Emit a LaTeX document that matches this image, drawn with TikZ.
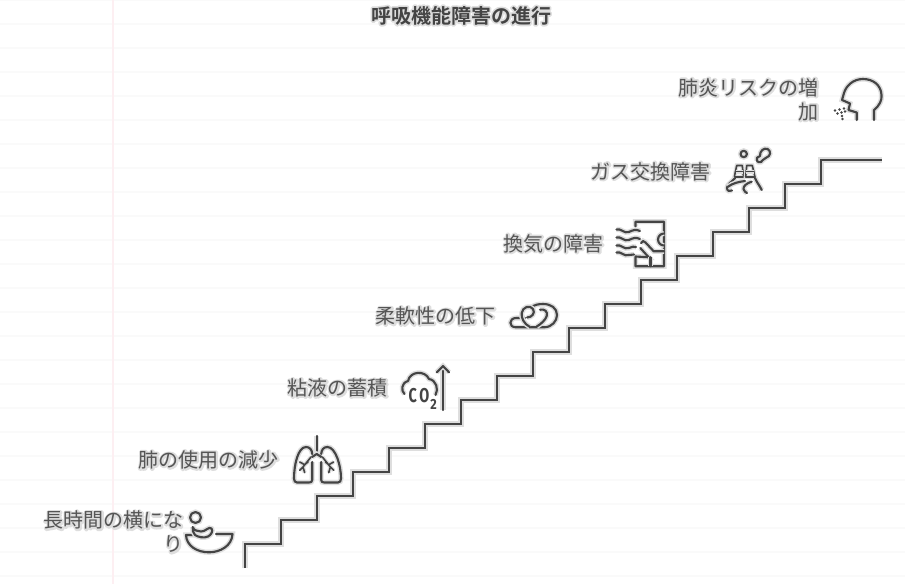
\documentclass[tikz,border=0pt]{standalone}
\usepackage{fontspec}
\setmainfont{Noto Sans CJK JP}
\newfontfamily\jpfont{Noto Sans CJK JP}
\newfontfamily\jpbold{Noto Sans CJK JP Bold}
\newfontfamily\lat{Fira Sans}
\definecolor{ink}{HTML}{444444}
\definecolor{txt}{HTML}{555555}
\definecolor{haloc}{HTML}{DEDEDE}
\definecolor{rule}{HTML}{FAFAFA}
\definecolor{margin}{HTML}{FDEFF2}
\newcommand{\strokeon}{\special{pdf:code 1 Tr 2.6 w 1 j}}
\newcommand{\strokeoff}{\special{pdf:code 0 Tr 0.4 w 0 j}}
\newcommand{\hl}[1]{\rlap{\jpfont\textcolor{haloc}{\strokeon #1\strokeoff}}{\jpfont\textcolor{txt}{#1}}}
\newcommand{\hlb}[1]{\rlap{\jpbold\textcolor{haloc}{\strokeon #1\strokeoff}}{\jpbold\textcolor{ink}{#1}}}
\tikzset{
  x=0.75pt,y=-0.75pt,
  lab/.style={inner sep=0pt,anchor=east,align=right,font=\fontsize{15}{18}\selectfont},
  ttl/.style={inner sep=0pt,font=\fontsize{15}{18}\selectfont},
  ic/.style={draw=ink,line width=1.6pt,line cap=round,line join=round,
    preaction={draw=haloc,line width=3.8pt}},
  fine/.style={draw=ink,line width=1.2pt,line cap=round,line join=round,
    preaction={draw=haloc,line width=3pt}},
  stair/.style={draw=ink,line width=2pt,line join=miter,
    preaction={draw=haloc,line width=4.2pt}},
  dot/.style={fill=ink},
}
\begin{document}
\begin{tikzpicture}
\useasboundingbox (0,0) rectangle (905,584);
\fill[white] (0,0) rectangle (905,584);
\foreach \y in {0,24,...,576} \draw[rule,line width=1pt] (0,\y) -- (905,\y);
\draw[margin,line width=1pt] (113,0) -- (113,584);

\node[ttl] (title) at (461,15.5) {\hlb{呼吸機能障害の進行}};

% stairs
\draw[stair] (245,568) -- (245,544) -- (281,544) -- (281,520) -- (317,520) -- (317,496) -- (353,496) -- (353,472) -- (389,472) -- (389,448) -- (425,448) -- (425,424) -- (461,424) -- (461,400) -- (497,400) -- (497,376) -- (533,376) -- (533,352) -- (569,352) -- (569,328) -- (605,328) -- (605,304) -- (641,304) -- (641,280) -- (677,280) -- (677,256) -- (713,256) -- (713,232) -- (749,232) -- (749,208) -- (785,208) -- (785,184) -- (821,184) -- (821,160) -- (882,160);

% labels
\node[lab] (l1) at (184,532) {\hl{長時間の横にな}\\\hl{り}};
\node[lab] (l2) at (279,460) {\hl{肺の使用の減少}};
\node[lab] (l3) at (388,388) {\hl{粘液の蓄積}};
\node[lab] (l4) at (496,316) {\hl{柔軟性の低下}};
\node[lab] (l5) at (604,243.5) {\hl{換気の障害}};
\node[lab] (l6) at (711,171.5) {\hl{ガス交換障害}};
\node[lab] (l7) at (819,99.5) {\hl{肺炎リスクの増}\\\hl{加}};

% icon: lying person in bowl
\draw[ic] (195.5,517.5) circle (5.5);
\draw[ic] (216,534) -- (232.5,534) .. controls (232,546) and (220,552.3) .. (209,552.3) .. controls (197,552.3) and (186.5,546) .. (186,535) -- (195,535);
\draw[ic] (192.7,527) .. controls (194,531) and (198,531) .. (201,531.5) .. controls (205,532) and (209,526) .. (211.5,528.5) .. controls (213.5,531) and (211,535) .. (208,536.5) .. controls (204,538.5) and (198,537) .. (195,535) .. controls (193,533) and (192.5,530) .. (192.7,527);

% icon: lungs
\draw[ic] (316.7,436) -- (316.7,454);
\draw[ic] (312,457) -- (316.7,454) -- (321.4,457);
\draw[ic] (312.2,462) -- (312.2,480) .. controls (312.2,482) and (311,482.5) .. (309,482.5) -- (297,482.5) .. controls (295,482.5) and (294,481) .. (294,478.5) .. controls (294,465) and (298,447) .. (306,447) .. controls (310,447) and (312,450) .. (312.2,454);
\draw[ic] (321.2,462) -- (321.2,480) .. controls (321.2,482) and (322.4,482.5) .. (324.4,482.5) -- (338,482.5) .. controls (340,482.5) and (341,481) .. (341,478.5) .. controls (341,465) and (335.4,447) .. (327.4,447) .. controls (323.4,447) and (321.4,450) .. (321.2,454);
\draw[fine] (311,457) -- (303,467) (299.7,462) -- (304.7,464.7) (308,462) -- (305.5,464) (299.7,470.3) -- (303,467) -- (304.7,472.7);
\draw[fine] (322.4,457) -- (330.4,467) (333.7,462) -- (328.7,464.7) (325.4,462) -- (327.9,464) (333.7,470.3) -- (330.4,467) -- (328.7,472.7);

% icon: CO2 cloud with arrow
\draw[ic] (404.5,394) .. controls (401,391) and (401,383) .. (408,381) .. controls (410,371) and (425,370) .. (429,379) .. controls (436,380) and (439,389) .. (435.5,395);
\node[inner sep=0pt,text=ink,font=\lat\bfseries\fontsize{15}{15}\selectfont] (co) at (419,396) {\scalebox{.72}[1]{C\,O}};
\node[inner sep=0pt,text=ink,font=\lat\bfseries\fontsize{11}{11}\selectfont] (two) at (433.5,404) {\scalebox{.85}[1]{2}};
\draw[ic] (443,410) -- (443,366);
\draw[ic] (436.7,372.3) -- (443,366) -- (449,372.3);

% icon: soft tissue
\draw[ic] (525,318) -- (516,318) .. controls (509,318) and (508,327.3) .. (516,327.3) -- (544,327.3) .. controls (552,327.3) and (557,321) .. (557,315) .. controls (557,308) and (551,304) .. (543,304) .. controls (538,304) and (534,305) .. (531.5,307.3);
\draw[ic] (530,327) .. controls (524,324) and (521,318) .. (521.7,313) .. controls (522.5,307) and (530,304.5) .. (533,309) .. controls (535.5,313) and (532,317.5) .. (527,317.5);
\draw[ic] (540,309.7) .. controls (545,308.5) and (548,312) .. (546.7,316) .. controls (545.5,320) and (541,324) .. (536.7,326.5);

% icon: ventilation
\draw[ic] (635.5,226.5) -- (635.5,221.7) -- (664,221.7) -- (664,266.3) -- (635.5,266.3) -- (635.5,256.5) -- (648.7,257.3) -- (640.3,248);
\draw[ic] (616.5,229.5) .. controls (621,228) and (624,234) .. (629,232) .. controls (633,230) and (636,229) .. (640,231);
\draw[ic] (616.5,237.5) .. controls (621,236) and (624,242) .. (629,240) .. controls (633,238) and (636,237) .. (640,239);
\draw[ic] (616.5,245.5) .. controls (621,244) and (624,250) .. (629,248) .. controls (632,246.5) and (634,246.5) .. (636,247);
\draw[ic] (616.5,252.5) .. controls (621,251) and (624,257) .. (629,255) .. controls (631,254) and (632,254) .. (634,254.5);
\draw[ic] (664,245.5) arc[start angle=90,end angle=270,radius=6];
\draw[ic] (641,243) .. controls (642,240.5) and (644,240.5) .. (645.5,242.5) -- (653.7,251.3) -- (664,251.3);
\draw[ic] (650.5,257.3) -- (650.5,266.3);

% icon: gas exchange
\draw[ic] (743.7,154) circle (3.2);
\draw[ic] (757,161) .. controls (755.5,158.5) and (757.5,156.5) .. (760,156) .. controls (759.5,151) and (764,147.5) .. (767.5,149) .. controls (771.5,151) and (770.5,156.5) .. (766.5,157.5) .. controls (763.5,158.5) and (762.5,161) .. (761,162) .. controls (759.5,162.7) and (757.5,162) .. (757,161);
\draw[fine] (734.3,177) -- (736.7,165.5) -- (742.3,165.5) -- (743.5,177) -- cycle;
\draw[fine] (745.7,177) -- (746.7,165.5) -- (752.3,165.5) -- (755,177) -- cycle;
\draw[fine] (735.5,171.7) -- (743,171.7) (746.2,171.7) -- (753.7,171.7);
\draw[ic] (735,178) .. controls (732,182) and (727,184) .. (727,188) .. controls (727,191) and (730,192) .. (732,190.5);
\draw[ic] (755,178) .. controls (757,183) and (760,186) .. (761.7,190);
\draw[ic] (751.7,181.7) .. controls (747,183) and (743,186) .. (743.5,189) .. controls (744,191) and (745.5,192.5) .. (747,193);
\draw[ic] (727.5,187) .. controls (733,183) and (738,182) .. (745,181);

% icon: head with droplets
\draw[ic] (874,120) -- (874,110) .. controls (880,105) and (882,100) .. (881.5,95) .. controls (881,85) and (873,79) .. (863,79) .. controls (853,79) and (846,86) .. (844,93) -- (842,100) -- (850,103.5) -- (848.5,110) -- (856.7,112.5) -- (856.7,120);
\foreach \p/\q in {835/110.5,839.5/109.5,844/108.5,837.5/113.5,841.5/112.5,845/111.5,842/116,842.5/119}
  \fill[dot] (\p,\q) circle (1.3);
\end{tikzpicture}
\end{document}
